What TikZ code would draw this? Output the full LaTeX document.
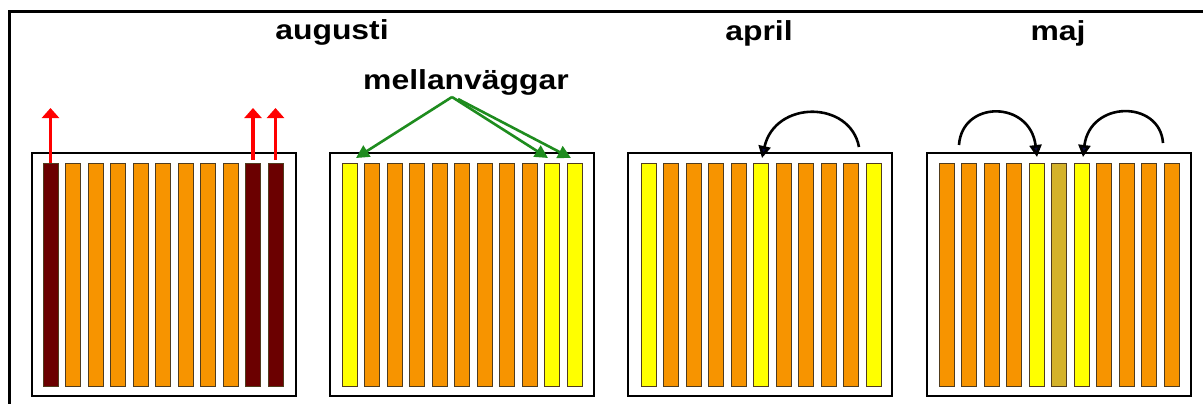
\documentclass[tikz,border=0pt]{standalone}
\usepackage{fontspec}
\setmainfont{Liberation Sans}
\usetikzlibrary{arrows.meta}
\definecolor{barorange}{RGB}{247,148,0}
\definecolor{baryellow}{RGB}{255,255,0}
\definecolor{bardark}{RGB}{107,0,0}
\definecolor{barolive}{RGB}{212,178,42}
\definecolor{baredge}{RGB}{80,60,30}
\definecolor{arrowred}{RGB}{255,0,0}
\definecolor{arrowgreen}{RGB}{30,140,30}
\definecolor{tipnavy}{RGB}{10,10,60}
\begin{document}
\begin{tikzpicture}[x=1pt,y=-1pt,
  bar/.style={draw=baredge, line width=0.9pt, rectangle, anchor=north west,
    minimum width=15pt, minimum height=223pt, inner sep=0pt, outer sep=0pt},
  hive/.style={draw=black, line width=1.8pt, rectangle, anchor=north west,
    minimum width=264pt, minimum height=243pt, inner sep=0pt, outer sep=0pt},
  title/.style={font=\fontsize{27.5}{30}\selectfont\bfseries, anchor=base, inner sep=0pt},
  redarrow/.style={draw=arrowred, line width=3.5pt, -{Triangle[length=10pt,width=17pt]}},
  greenarrow/.style={draw=arrowgreen, line width=2.6pt, -{Triangle[length=13pt,width=13pt]}},
  movearrow/.style={draw=black, line width=2.6pt, -{Triangle[length=12pt,width=12pt,fill=tipnavy]}}]
\useasboundingbox (0,0) rectangle (1203,404);
\fill[white] (0,0) rectangle (1203,404);
% outer frame
\coordinate (f0) at (9,12);
\coordinate (f1) at (1203,12);
\coordinate (f2) at (9,404);
\draw[line width=3pt] (f2) -- (f0) -- (f1);
% titles
\node[title] (taug) at (332,40) {\scalebox{1.16}[1]{augusti}};
\node[title] (tapr) at (759,41) {\scalebox{1.16}[1]{april}};
\node[title] (tmaj) at (1058,41) {\scalebox{1.16}[1]{maj}};
\node[title] (tmv) at (466,89) {\scalebox{1.16}[1]{mellanväggar}};
% hives
\node[hive] (h1) at (32,153) {};
\node[hive] (h2) at (330,153) {};
\node[hive] (h3) at (628,153) {};
\node[hive] (h4) at (927,153) {};
% bars
\foreach \c [count=\i] in {bardark,barorange,barorange,barorange,barorange,barorange,barorange,barorange,barorange,bardark,bardark}
  \node[bar, fill=\c] (a\i) at ({43+22.5*(\i-1)},163) {};
\foreach \c [count=\i] in {baryellow,barorange,barorange,barorange,barorange,barorange,barorange,barorange,barorange,baryellow,baryellow}
  \node[bar, fill=\c] (b\i) at ({342+22.5*(\i-1)},163) {};
\foreach \c [count=\i] in {baryellow,barorange,barorange,barorange,barorange,baryellow,barorange,barorange,barorange,barorange,baryellow}
  \node[bar, fill=\c] (c\i) at ({641+22.5*(\i-1)},163) {};
\foreach \c [count=\i] in {barorange,barorange,barorange,barorange,baryellow,barolive,baryellow,barorange,barorange,barorange,barorange}
  \node[bar, fill=\c] (d\i) at ({939+22.5*(\i-1)},163) {};
% red arrows (august: frames removed)
\coordinate (r1) at (50.5,108);
\coordinate (r10) at (253,108);
\coordinate (r11) at (275.5,108);
\draw[redarrow] (a1.north) -- (r1);
\draw[redarrow] ([yshift=3pt]a10.north) -- (r10);
\draw[redarrow] ([yshift=3pt]a11.north) -- (r11);
% green arrows (mellanväggar)
\coordinate (g0) at (452,97);
\coordinate (g0b) at (458,99);
\coordinate (g1) at (356,158);
\coordinate (g10) at (548,158);
\coordinate (g11) at (571,158);
\draw[greenarrow] (g0) -- (g1);
\draw[greenarrow] (g0) -- (g10);
\draw[greenarrow] (g0b) -- (g11);
% april move
\coordinate (m3s) at (859,147);
\coordinate (m3e) at (762,158);
\draw[movearrow] (m3s) .. controls (850,100) and (775,100) .. (m3e);
% maj moves
\coordinate (m4s) at (959,145);
\coordinate (m4e) at (1037,157);
\draw[movearrow] (m4s) .. controls (962,100) and (1030,100) .. (m4e);
\coordinate (m5s) at (1163,143);
\coordinate (m5e) at (1083,157);
\draw[movearrow] (m5s) .. controls (1160,100) and (1090,100) .. (m5e);
\end{tikzpicture}
\end{document}
